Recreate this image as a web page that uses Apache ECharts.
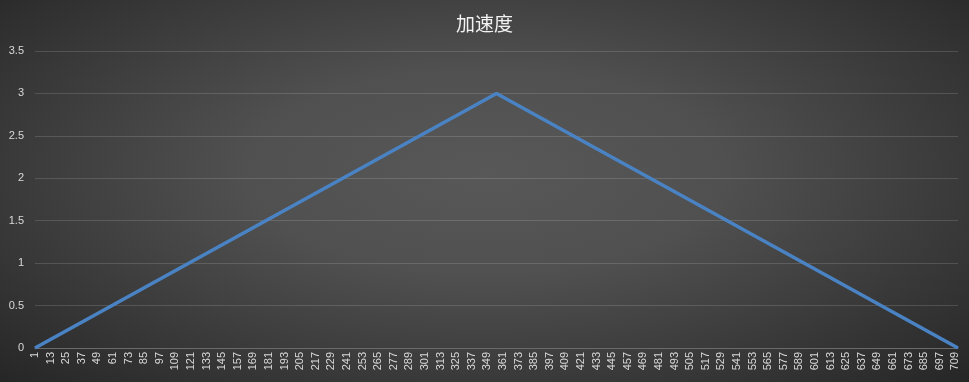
<!DOCTYPE html>
<html><head><meta charset="utf-8">
<script src="https://cdn.jsdelivr.net/npm/echarts@6/dist/echarts.min.js"></script>
<style>
html,body{margin:0;padding:0;}
#c{width:969px;height:382px;background:radial-gradient(ellipse farthest-corner at 50% 45%, #585858 0%, #505050 35%, #262626 100%);}
</style></head>
<body><div id="c"></div>
<script>
// Number of samples on the x axis (category labels 1..N)
const sampleCount = 711;
const categories = Array.from({length: sampleCount}, (_, i) => String(i + 1));
// Key points (linear segments between them)
const keyX = ['1', '356', '711'];
const keyY = [0, 3, 0];
const yTicks = [0, 0.5, 1, 1.5, 2, 2.5, 3, 3.5];

const chart = echarts.init(document.getElementById('c'), null, {renderer: 'canvas'});
chart.setOption({
  backgroundColor: 'transparent',
  animation: false,
  title: {
    text: '加速度', left: 'center', top: 9,
    textStyle: {color: '#f2f2f2', fontSize: 19, fontWeight: 'normal', fontFamily: 'Noto Sans CJK SC'}
  },
  grid: {left: 35, right: 11, top: 51, bottom: 34, containLabel: false},
  xAxis: {
    type: 'category', data: categories, boundaryGap: false,
    axisLine: {lineStyle: {color: '#6a6a6a', width: 1}},
    axisTick: {show: false},
    axisLabel: {interval: 11, rotate: 90, color: '#d9d9d9', fontSize: 11, margin: 4, fontFamily: 'Liberation Sans'},
    splitLine: {show: false}
  },
  yAxis: {
    type: 'value', min: yTicks[0], max: yTicks[yTicks.length - 1], interval: 0.5,
    axisLine: {show: false}, axisTick: {show: false},
    axisLabel: {color: '#d9d9d9', fontSize: 11, margin: 11, fontFamily: 'Liberation Sans'},
    splitLine: {lineStyle: {color: 'rgba(255,255,255,0.14)', width: 1}}
  },
  series: [{
    type: 'line',
    data: keyX.map((x, i) => [x, keyY[i]]),
    showSymbol: false, symbol: 'none',
    lineStyle: {color: '#4a83c4', width: 3.5},
    connectNulls: true
  }]
});
</script></body></html>
